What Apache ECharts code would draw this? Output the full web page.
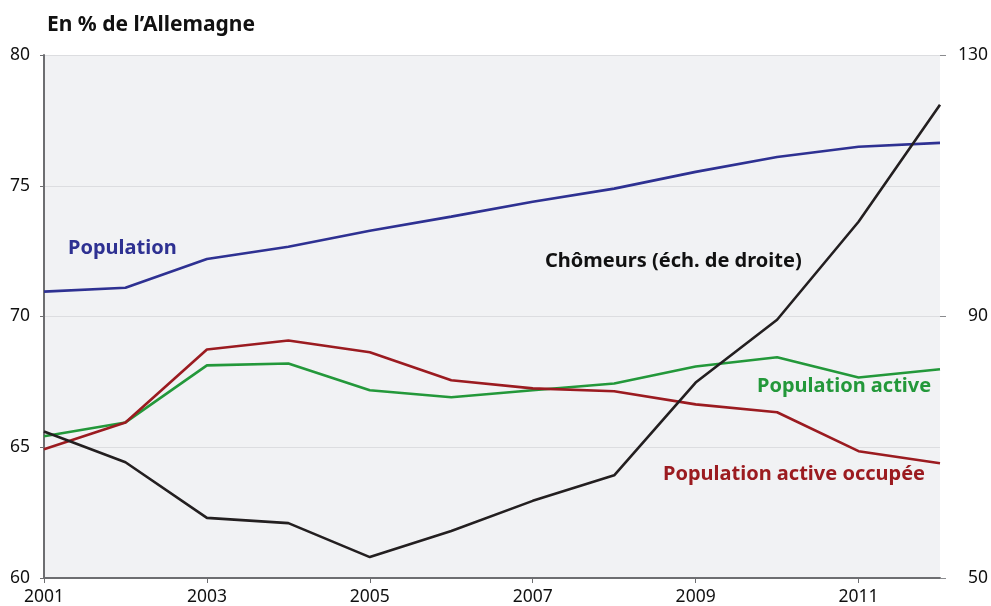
<!DOCTYPE html>
<html><head><meta charset="utf-8">
<script src="https://cdn.jsdelivr.net/npm/echarts@6/dist/echarts.min.js"></script>
<style>html,body{margin:0;padding:0;background:#fff}#c{width:991px;height:606px}</style>
</head><body><div id="c"></div>
<script>
const years = ['2001','2002','2003','2004','2005','2006','2007','2008','2009','2010','2011','2012'];
const population = [70.95, 71.1, 72.2, 72.67, 73.28, 73.82, 74.39, 74.89, 75.53, 76.1, 76.49, 76.64];
const populationActive = [65.42, 65.95, 68.13, 68.2, 67.18, 66.91, 67.18, 67.44, 68.09, 68.44, 67.67, 67.98];
const populationOccupee = [64.92, 65.95, 68.74, 69.08, 68.63, 67.56, 67.25, 67.14, 66.64, 66.34, 64.85, 64.39];
const chomeurs = [72.4, 67.7, 59.2, 58.4, 53.2, 57.2, 61.8, 65.7, 79.9, 89.5, 104.5, 122.4];

const FONT = 'Noto Sans';
const chart = echarts.init(document.getElementById('c'), null, {renderer:'canvas'});
const lbl = {color:'#111', fontFamily:FONT, fontSize:17.5};
const bold = (s) => 'bold ' + s + 'px "' + FONT + '"';
chart.setOption({
  animation:false,
  grid:{left:44, right:51, top:55, bottom:26, show:true, backgroundColor:'#f1f2f4', borderWidth:0},
  xAxis:{type:'category', data:years, boundaryGap:false,
    axisLine:{lineStyle:{color:'#6d6e71', width:2}},
    axisTick:{interval:1, length:5, lineStyle:{color:'#6d6e71'}},
    axisLabel:Object.assign({interval:1, margin:10}, lbl),
    splitLine:{show:false}},
  yAxis:[
    {type:'value', min:60, max:80, interval:5, position:'left',
     axisLine:{show:true, lineStyle:{color:'#6d6e71', width:2}},
     axisTick:{show:true, length:4, lineStyle:{color:'#6d6e71'}},
     axisLabel:Object.assign({margin:14}, lbl),
     splitLine:{show:true, lineStyle:{color:'#dcdde0', width:1}}},
    {type:'value', min:50, max:130, interval:40, position:'right',
     axisLine:{show:false},
     axisTick:{show:true, length:6, lineStyle:{color:'#8a8b8e'}},
     axisLabel:Object.assign({margin:48, align:'right'}, lbl),
     splitLine:{show:false}}
  ],
  series:[
    {name:'Population', type:'line', data:population, symbol:'none', lineStyle:{color:'#2e3192', width:2.6}},
    {name:'Population active', type:'line', data:populationActive, symbol:'none', lineStyle:{color:'#23983a', width:2.6}},
    {name:'Population active occupée', type:'line', data:populationOccupee, symbol:'none', lineStyle:{color:'#9b1b20', width:2.6}},
    {name:'Chômeurs', type:'line', yAxisIndex:1, data:chomeurs, symbol:'none', lineStyle:{color:'#231f20', width:2.6}}
  ],
  graphic:[
    {type:'text', left:47, top:15, style:{text:'En % de l\u2019Allemagne', fill:'#111', font:bold(21)}},
    {type:'text', left:68, top:238, style:{text:'Population', fill:'#2e3192', font:bold(20)}},
    {type:'text', left:545, top:251, style:{text:'Chômeurs (éch. de droite)', fill:'#111', font:bold(20)}},
    {type:'text', left:757, top:376, style:{text:'Population active', fill:'#23983a', font:bold(20)}},
    {type:'text', left:663, top:464, style:{text:'Population active occupée', fill:'#9b1b20', font:bold(20)}}
  ]
});
</script></body></html>
